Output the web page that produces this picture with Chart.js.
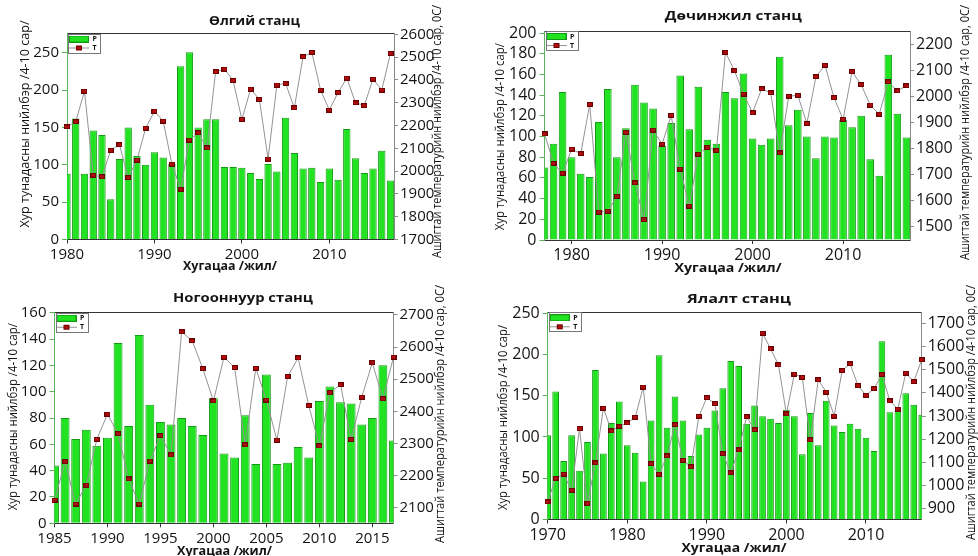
<!DOCTYPE html>
<html>
<head>
<meta charset="utf-8">
<script src="https://cdn.jsdelivr.net/npm/chart.js@4.4.1/dist/chart.umd.min.js"></script>
<style>
  html, body { margin: 0; padding: 0; background: #fff; }
  #wrap { position: relative; width: 978px; height: 556px; overflow: hidden; }
  #wrap canvas { position: absolute; left: 0; top: 0; }
</style>
</head>
<body>
<div id="wrap">
  <canvas id="c1" width="978" height="556"></canvas>
  <canvas id="c2" width="978" height="556"></canvas>
  <canvas id="c3" width="978" height="556"></canvas>
  <canvas id="c4" width="978" height="556"></canvas>
</div>
<script>
// ---- data ----
const olgiiYears = [1980,1981,1982,1983,1984,1985,1986,1987,1988,1989,1990,1991,1992,1993,1994,1995,1996,1997,1998,1999,
  2000,2001,2002,2003,2004,2005,2006,2007,2008,2009,2010,2011,2012,2013,2014,2015,2016,2017];
const olgiiP = [88,162,88,146,140,54,108,150,112,100,117,110,101,232,251,150,161,161,97,97,
  96,89,81,101,91,163,116,95,96,77,95,80,148,109,89,95,119,79];
const olgiiT = [2195,2217,2351,1982,1975,2092,2116,1972,2048,2189,2263,2220,2031,1921,2136,2168,2102,2436,2448,2398,
  2227,2360,2315,2053,2378,2385,2278,2502,2521,2356,2268,2345,2408,2300,2288,2404,2356,2517];

const dochYears = [1977,1978,1979,1980,1981,1982,1983,1984,1985,1986,1987,1988,1989,1990,1991,1992,1993,1994,1995,1996,
  1997,1998,1999,2000,2001,2002,2003,2004,2005,2006,2007,2008,2009,2010,2011,2012,2013,2014,2015,2016,2017];
const dochP = [70,93,143,80,64,61,114,146,80,108,150,133,127,91,113,159,107,148,97,93,
  143,137,161,98,92,98,177,111,126,100,79,100,99,116,109,120,78,62,179,122,99];
const dochT = [1856,1743,1705,1798,1780,1969,1556,1560,1616,1862,1668,1527,1871,1817,1927,1721,1579,1778,1804,1793,
  2169,2099,2009,1937,2029,2014,1783,2001,2004,1896,2075,2120,1995,1912,2095,2045,1967,1932,2056,2021,2041];

const nogYears = [1985,1986,1987,1988,1989,1990,1991,1992,1993,1994,1995,1996,1997,1998,1999,2000,2001,2002,2003,2004,
  2005,2006,2007,2008,2009,2010,2011,2012,2013,2014,2015,2016,2017];
const nogP = [44,80,64,71,59,65,137,74,143,90,77,75,80,74,67,95,53,50,82,45,
  113,45,46,58,50,93,104,92,91,75,80,120,63];
const nogT = [2123,2243,2111,2170,2313,2391,2330,2189,2111,2245,2324,2264,2648,2619,2533,2432,2569,2536,2295,2534,
  2435,2310,2508,2566,2418,2292,2458,2483,2312,2444,2551,2439,2569];

const yalYears = [1970,1971,1972,1973,1974,1975,1976,1977,1978,1979,1980,1981,1982,1983,1984,1985,1986,1987,1988,1989,
  1990,1991,1992,1993,1994,1995,1996,1997,1998,1999,2000,2001,2002,2003,2004,2005,2006,2007,2008,2009,
  2010,2011,2012,2013,2014,2015,2016,2017];
const yalP = [102,155,71,102,59,94,181,80,117,143,90,81,46,120,199,111,149,120,77,103,
  111,132,159,192,186,116,138,125,122,117,133,125,79,129,90,144,114,106,116,110,
  99,83,216,130,132,153,139,127];
const yalT = [930,1032,1049,980,1246,924,1098,1334,1236,1256,1270,1294,1425,1095,1049,1128,1263,1109,1081,1299,
  1379,1353,1138,1055,1154,1297,1241,1657,1590,1521,1309,1481,1466,1197,1456,1403,1300,1496,1525,1431,
  1389,1418,1479,1365,1330,1485,1448,1542];

// tick labels
const olgiiXTicks = [1980,1990,2000,2010];
const olgiiPTicks = [0,50,100,150,200,250];
const olgiiTTicks = [1700,1800,1900,2000,2100,2200,2300,2400,2500,2600];
const dochXTicks = [1980,1990,2000,2010];
const dochPTicks = [0,20,40,60,80,100,120,140,160,180,200];
const dochTTicks = [1500,1600,1700,1800,1900,2000,2100,2200];
const nogXTicks = [1985,1990,1995,2000,2005,2010,2015];
const nogPTicks = [0,20,40,60,80,100,120,140,160];
const nogTTicks = [2100,2200,2300,2400,2500,2600,2700];
const yalXTicks = [1970,1980,1990,2000,2010];
const yalPTicks = [0,50,100,150,200,250];
const yalTTicks = [900,1000,1100,1200,1300,1400,1500,1600,1700];

const yTitle = 'Хур тунадасны нийлбэр /4-10 сар/';
const y2Title = 'Ашигтай температурийн нийлбэр /4-10 сар, 0С/';
const xTitle = 'Хугацаа /жил/';

// ---- styling ----
const FONT = "'Open Sans', 'Liberation Sans', sans-serif";
const BAR_FILL = '#22e322';
const BAR_EDGE = '#139a13';
const LINE_COL = '#939393';
const MARK_FILL = '#b00e0e';
const MARK_EDGE = '#6a0000';
const LEFT_AXIS = '#5cb35c';
const RIGHT_AXIS = '#8a8a8a';
const DARK_AXIS = '#333333';

// square marker (a bit wider than tall, as in the picture)
function markerIcon() {
  const c = document.createElement('canvas');
  c.width = 6; c.height = 5;
  const g = c.getContext('2d');
  g.fillStyle = MARK_FILL; g.fillRect(0, 0, 6, 5);
  g.strokeStyle = MARK_EDGE; g.lineWidth = 1; g.strokeRect(0.5, 0.5, 5, 4);
  return c;
}
const marker = markerIcon();

// legend icons
function iconP() {
  const c = document.createElement('canvas');
  c.width = 20; c.height = 7;
  const g = c.getContext('2d');
  g.fillStyle = BAR_FILL; g.fillRect(0, 0, 20, 7);
  g.strokeStyle = BAR_EDGE; g.lineWidth = 1; g.strokeRect(0.5, 0.5, 19, 6);
  return c;
}
function iconT() {
  const c = document.createElement('canvas');
  c.width = 20; c.height = 7;
  const g = c.getContext('2d');
  g.strokeStyle = LINE_COL; g.lineWidth = 1;
  g.beginPath(); g.moveTo(0, 3.5); g.lineTo(20, 3.5); g.stroke();
  g.drawImage(marker, 7, 1);
  return c;
}
const legendIcons = [iconP(), iconT()];

function textPlugin(p) {
  return {
    id: 'panelText',
    afterLayout(chart) {
      // keep the legend in the top-left corner of the plot
      const lg = chart.legend, ca = chart.chartArea;
      if (lg) {
        lg.left = ca.left; lg.top = ca.top;
        lg.right = ca.left + lg.width; lg.bottom = ca.top + lg.height;
      }
    },
    afterDraw(chart) {
      const ctx = chart.ctx;
      p.texts.forEach(t => {
        ctx.save();
        ctx.font = t.font;
        ctx.fillStyle = '#141414';
        ctx.textAlign = 'center';
        ctx.textBaseline = 'middle';
        const w = ctx.measureText(t.text).width;
        ctx.translate(t.x, t.y);
        if (t.rot) ctx.rotate(t.rot);
        ctx.scale(t.w / w, 1);
        ctx.fillText(t.text, 0, 0);
        ctx.restore();
      });
      // frame around legend
      const hb = chart.legend && chart.legend.legendHitBoxes;
      if (hb && hb.length) {
        const l = Math.min(...hb.map(h => h.left)) - 1;
        const t = Math.min(...hb.map(h => h.top)) - 2;
        const r = Math.max(...hb.map(h => h.left + h.width)) + 3;
        const b = Math.max(...hb.map(h => h.top + h.height)) + 1;
        ctx.save();
        ctx.strokeStyle = '#777';
        ctx.lineWidth = 1;
        ctx.strokeRect(Math.round(l) + 0.5, Math.round(t) + 0.5, Math.round(r - l), Math.round(b - t));
        ctx.restore();
      }
    }
  };
}

const WL = 40, WR = 48, HX = 24;

function buildChart(id, p) {
  const a = p.area;
  const tickFont = { family: FONT, size: p.tickSize };
  new Chart(document.getElementById(id), {
    type: 'bar',
    data: {
      datasets: [
        {
          type: 'bar', label: 'P',
          data: p.years.map((y, i) => ({ x: y, y: p.P[i] })),
          xAxisID: 'x', yAxisID: 'y',
          backgroundColor: BAR_FILL, borderColor: BAR_EDGE, borderWidth: 1,
          categoryPercentage: 1, barPercentage: 0.84,
          clip: 0, order: 1
        },
        {
          type: 'line', label: 'T',
          data: p.years.map((y, i) => ({ x: y, y: p.T[i] })),
          xAxisID: 'x', yAxisID: 'y2',
          borderColor: LINE_COL, borderWidth: 1, tension: 0,
          pointStyle: marker, pointRadius: 3,
          clip: false, order: 0
        }
      ]
    },
    options: {
      responsive: false,
      animation: false,
      devicePixelRatio: 1,
      layout: { padding: { left: a.l - WL, right: 978 - a.r - WR, top: a.t, bottom: 556 - a.b - HX } },
      plugins: {
        title: { display: false },
        tooltip: { enabled: false },
        legend: {
          position: 'chartArea',
          align: 'start',
          labels: {
            usePointStyle: true, pointStyleWidth: 20, boxHeight: 7,
            padding: 2, color: '#111',
            font: { family: FONT, size: 7, weight: 'bold' },
            sort: (x, y) => x.datasetIndex - y.datasetIndex,
            generateLabels(chart) {
              const items = Chart.defaults.plugins.legend.labels.generateLabels(chart);
              items.forEach(it => { it.pointStyle = legendIcons[it.datasetIndex]; });
              return items;
            }
          }
        }
      },
      scales: {
        x: {
          type: 'linear', position: 'bottom', min: p.xMin, max: p.xMax, offset: false,
          grid: { offset: false, drawOnChartArea: false, tickLength: 4, color: DARK_AXIS },
          border: { color: DARK_AXIS, width: 1 },
          ticks: { color: '#141414', font: tickFont, padding: 2, maxRotation: 0, autoSkip: false, callback: v => String(v) },
          afterBuildTicks: s => { s.ticks = p.xTicks.map(v => ({ value: v })); },
          afterFit: s => { s.height = HX; s.paddingLeft = 0; s.paddingRight = 0; }
        },
        x2: {
          type: 'linear', position: 'top', min: p.xMin, max: p.xMax, offset: false,
          grid: { offset: false, drawOnChartArea: false, drawTicks: false },
          border: { color: DARK_AXIS, width: 1 },
          ticks: { display: false },
          afterFit: s => { s.height = 0; s.paddingLeft = 0; s.paddingRight = 0; }
        },
        y: {
          type: 'linear', position: 'left', min: p.yMin, max: p.yMax, beginAtZero: false,
          grid: { drawOnChartArea: false, tickLength: 5, color: LEFT_AXIS },
          border: { color: LEFT_AXIS, width: 1 },
          ticks: { color: '#141414', font: tickFont, padding: 3, autoSkip: false, callback: v => String(v) },
          afterBuildTicks: s => { s.ticks = p.yTicks.map(v => ({ value: v })); },
          afterFit: s => { s.width = WL; s.paddingTop = 0; s.paddingBottom = 0; }
        },
        y2: {
          type: 'linear', position: 'right', min: p.y2Min, max: p.y2Max, beginAtZero: false,
          grid: { drawOnChartArea: false, tickLength: 4, color: RIGHT_AXIS },
          border: { color: RIGHT_AXIS, width: 1 },
          ticks: { color: '#141414', font: tickFont, padding: 2, autoSkip: false, callback: v => String(v) },
          afterBuildTicks: s => { s.ticks = p.y2Ticks.map(v => ({ value: v })); },
          afterFit: s => { s.width = WR; s.paddingTop = 0; s.paddingBottom = 0; }
        }
      }
    },
    plugins: [textPlugin(p)]
  });
}

const UP = -Math.PI / 2;
function labels(name, tt, lt, rt, xt) {
  return [
    { text: name, x: tt[0], y: tt[1], w: tt[2], font: 'bold 13px ' + FONT },
    { text: yTitle, x: lt[0], y: lt[1], w: lt[2], rot: UP, font: '13px ' + FONT },
    { text: y2Title, x: rt[0], y: rt[1], w: rt[2], rot: UP, font: '13px ' + FONT },
    { text: xTitle, x: xt[0], y: xt[1], w: xt[2], font: 'bold 12px ' + FONT }
  ];
}

buildChart('c1', {
  years: olgiiYears, P: olgiiP, T: olgiiT,
  xTicks: olgiiXTicks, yTicks: olgiiPTicks, y2Ticks: olgiiTTicks,
  xMin: 1980, xMax: 2017.4, yMin: 0, yMax: 276, y2Min: 1700, y2Max: 2604,
  tickSize: 15,
  area: { l: 67, r: 394, t: 33.5, b: 239.5 },
  texts: labels('Өлгий станц', [254.5, 21, 91], [25, 124, 207], [437.5, 131.5, 253], [230, 267, 94])
});

buildChart('c2', {
  years: dochYears, P: dochP, T: dochT,
  xTicks: dochXTicks, yTicks: dochPTicks, y2Ticks: dochTTicks,
  xMin: 1977, xMax: 2017.4, yMin: 0, yMax: 202, y2Min: 1449, y2Max: 2251,
  tickSize: 16,
  area: { l: 544.5, r: 910, t: 31, b: 240 },
  texts: labels('Дөчинжил станц', [733.3, 16.7, 137], [500, 136.7, 187], [965, 132.5, 255], [728, 268.3, 107])
});

buildChart('c3', {
  years: nogYears, P: nogP, T: nogT,
  xTicks: nogXTicks, yTicks: nogPTicks, y2Ticks: nogTTicks,
  xMin: 1985, xMax: 2017, yMin: 0, yMax: 160, y2Min: 2051, y2Max: 2707,
  tickSize: 15,
  area: { l: 54.5, r: 393.5, t: 312.7, b: 523.3 },
  texts: labels('Ногооннуур станц', [243, 298.3, 140], [13.5, 416.7, 187], [440, 414, 258], [224.5, 551.7, 95])
});

buildChart('c4', {
  years: yalYears, P: yalP, T: yalT,
  xTicks: yalXTicks, yTicks: yalPTicks, y2Ticks: yalTTicks,
  xMin: 1970, xMax: 2017, yMin: 0, yMax: 251, y2Min: 854, y2Max: 1747,
  tickSize: 16,
  area: { l: 547.7, r: 921.7, t: 312.3, b: 519.5 },
  texts: labels('Ялалт станц', [739, 299, 104], [503.3, 417.5, 185], [971.5, 412.5, 255], [734, 548.3, 105])
});
</script>
</body>
</html>
